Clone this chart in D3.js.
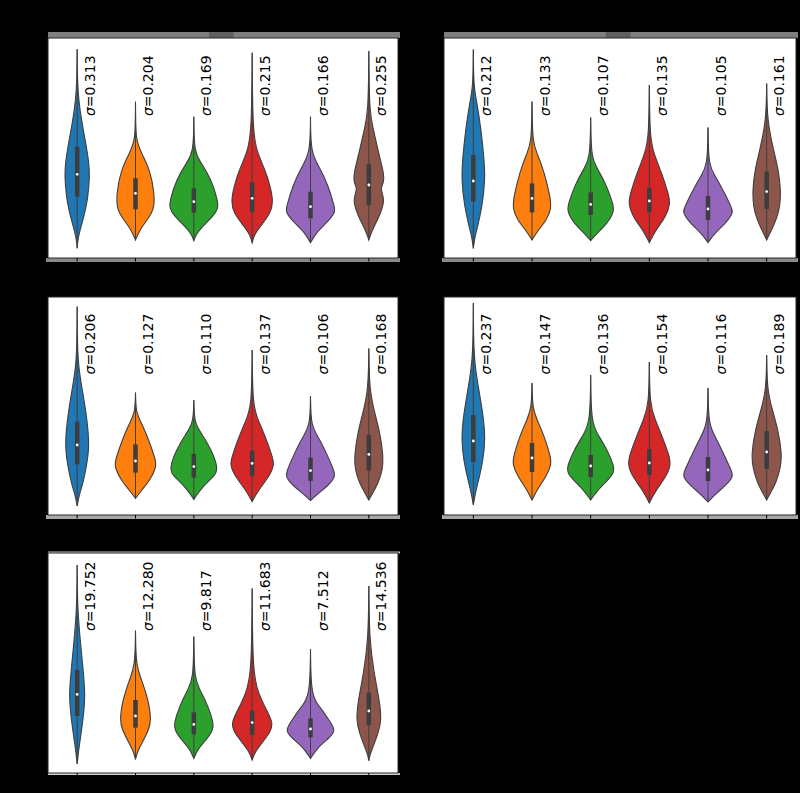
<!DOCTYPE html>
<html>
<head>
<meta charset="utf-8">
<script src="https://cdn.jsdelivr.net/npm/d3@7"></script>
<style>
  body { margin: 0; background: #000; }
  svg { display: block; }
</style>
</head>
<body>
<svg id="chart" width="800" height="793"></svg>
<script>
// six models per panel, same order and colours everywhere
const categories = ["m1", "m2", "m3", "m4", "m5", "m6"];
const colors = ["#1f77b4", "#ff7f0e", "#2ca02c", "#d62728", "#9467bd", "#8c564b"];

const sigmas = [
  ["0.313", "0.204", "0.169", "0.215", "0.166", "0.255"],
  ["0.212", "0.133", "0.107", "0.135", "0.105", "0.161"],
  ["0.206", "0.127", "0.110", "0.137", "0.106", "0.168"],
  ["0.237", "0.147", "0.136", "0.154", "0.116", "0.189"],
  ["19.752", "12.280", "9.817", "11.683", "7.512", "14.536"]
];

const yDomains = [[0, 2.2], [0, 1.1], [0, 1.09], [0, 1.09], [0, 110]];

// violin outlines: [value, relative density] from top to bottom
const p1Shapes = [
  [[2.087,0],[1.78,0.01],[1.58,0.06],[1.38,0.17],[1.113,0.37],[0.947,0.47],[0.813,0.5],[0.613,0.43],[0.48,0.33],[0.38,0.23],[0.247,0.08],[0.163,0.02],[0.097,0]],
  [[1.563,0],[1.247,0.01],[1.147,0.08],[1.047,0.24],[0.88,0.58],[0.647,0.76],[0.48,0.74],[0.38,0.46],[0.28,0.17],[0.18,0]],
  [[1.413,0],[1.047,0.01],[0.947,0.31],[0.78,0.7],[0.58,0.95],[0.497,0.98],[0.413,0.76],[0.313,0.33],[0.23,0.08],[0.173,0]],
  [[2.053,0],[1.247,0.02],[1.047,0.21],[0.88,0.52],[0.713,0.73],[0.563,0.84],[0.447,0.74],[0.313,0.31],[0.23,0.08],[0.153,0]],
  [[1.413,0],[1.047,0.01],[0.913,0.35],[0.713,0.73],[0.513,0.95],[0.463,1.0],[0.363,0.7],[0.263,0.25],[0.153,0]],
  [[2.07,0],[1.447,0.02],[1.28,0.19],[1.047,0.39],[0.85,0.6],[0.75,0.6],[0.7,0.45],[0.6,0.6],[0.54,0.58],[0.447,0.47],[0.313,0.21],[0.23,0.06],[0.18,0]]
];
const p1Boxes = [[0.613,0.837,1.113],[0.487,0.647,0.797],[0.453,0.563,0.697],[0.463,0.597,0.757],[0.397,0.513,0.663],[0.53,0.73,0.94]];

const p2Shapes = [
  [[1.043,0],[0.857,0.01],[0.773,0.15],[0.64,0.31],[0.49,0.43],[0.39,0.47],[0.257,0.35],[0.157,0.17],[0.107,0.06],[0.048,0]],
  [[0.782,0],[0.573,0.02],[0.523,0.21],[0.423,0.5],[0.307,0.72],[0.248,0.77],[0.19,0.58],[0.14,0.25],[0.09,0]],
  [[0.703,0],[0.49,0.02],[0.44,0.31],[0.357,0.65],[0.273,0.88],[0.232,0.94],[0.173,0.66],[0.123,0.25],[0.087,0]],
  [[0.865,0],[0.607,0.02],[0.523,0.17],[0.423,0.5],[0.323,0.75],[0.273,0.84],[0.207,0.66],[0.14,0.25],[0.077,0]],
  [[0.653,0],[0.457,0.02],[0.407,0.31],[0.323,0.66],[0.248,0.95],[0.227,1.0],[0.173,0.7],[0.123,0.25],[0.077,0]],
  [[0.873,0],[0.69,0.02],[0.557,0.24],[0.44,0.47],[0.34,0.56],[0.257,0.53],[0.19,0.38],[0.14,0.19],[0.09,0]]
];
const p2Boxes = [[0.282,0.385,0.515],[0.228,0.298,0.373],[0.215,0.268,0.328],[0.228,0.285,0.352],[0.19,0.245,0.31],[0.245,0.332,0.432]];

const p3Shapes = [
  [[1.042,0],[0.758,0.01],[0.625,0.21],[0.475,0.4],[0.342,0.49],[0.242,0.37],[0.158,0.23],[0.1,0.08],[0.045,0]],
  [[0.612,0],[0.508,0.02],[0.458,0.25],[0.375,0.53],[0.275,0.8],[0.242,0.84],[0.175,0.58],[0.125,0.25],[0.083,0]],
  [[0.575,0],[0.458,0.02],[0.408,0.31],[0.325,0.7],[0.258,0.91],[0.208,0.93],[0.175,0.62],[0.125,0.25],[0.078,0]],
  [[0.825,0],[0.542,0.02],[0.475,0.24],[0.375,0.58],[0.292,0.8],[0.253,0.89],[0.192,0.68],[0.125,0.25],[0.067,0]],
  [[0.595,0],[0.442,0.02],[0.392,0.31],[0.308,0.64],[0.225,0.93],[0.192,1.0],[0.15,0.73],[0.108,0.31],[0.072,0]],
  [[0.833,0],[0.625,0.02],[0.508,0.24],[0.408,0.45],[0.292,0.58],[0.225,0.55],[0.158,0.37],[0.108,0.15],[0.075,0]]
];
const p3Boxes = [[0.253,0.35,0.467],[0.212,0.27,0.353],[0.187,0.242,0.305],[0.195,0.258,0.322],[0.17,0.222,0.287],[0.222,0.303,0.4]];

const p4Shapes = [
  [[1.06,0],[0.78,0.01],[0.64,0.2],[0.5,0.39],[0.38,0.48],[0.27,0.38],[0.18,0.22],[0.11,0.08],[0.05,0]],
  [[0.66,0],[0.53,0.02],[0.47,0.22],[0.39,0.5],[0.29,0.74],[0.25,0.77],[0.19,0.55],[0.13,0.22],[0.075,0]],
  [[0.70,0],[0.46,0.02],[0.40,0.3],[0.32,0.68],[0.25,0.91],[0.21,0.94],[0.17,0.64],[0.12,0.25],[0.075,0]],
  [[0.765,0],[0.55,0.02],[0.48,0.22],[0.38,0.55],[0.3,0.78],[0.25,0.86],[0.19,0.66],[0.12,0.24],[0.06,0]],
  [[0.635,0],[0.45,0.02],[0.39,0.3],[0.3,0.64],[0.22,0.94],[0.19,1.0],[0.15,0.72],[0.105,0.3],[0.065,0]],
  [[0.8,0],[0.62,0.02],[0.52,0.24],[0.42,0.46],[0.31,0.6],[0.24,0.56],[0.16,0.37],[0.11,0.15],[0.075,0]]
];
const p4Boxes = [[0.265,0.37,0.5],[0.215,0.285,0.36],[0.19,0.245,0.3],[0.2,0.26,0.33],[0.17,0.225,0.29],[0.23,0.315,0.42]];

const p5Shapes = [
  [[104,0],[83.2,0.01],[66.5,0.12],[51.5,0.24],[38.2,0.33],[26.5,0.23],[16.5,0.12],[11.5,0.06],[4.5,0]],
  [[71.2,0],[53.2,0.02],[46.5,0.25],[36.5,0.51],[26.5,0.63],[21.5,0.53],[14.8,0.25],[10.7,0.08],[6.8,0]],
  [[68.2,0],[46.5,0.02],[41.5,0.25],[33.2,0.58],[24.8,0.79],[21.5,0.77],[16.5,0.5],[12.3,0.17],[7.3,0]],
  [[92.3,0],[49.8,0.02],[39.8,0.25],[31.5,0.57],[25.2,0.83],[20.7,0.75],[14.8,0.37],[10.7,0.12],[6.5,0]],
  [[62,0],[38.2,0.02],[33.2,0.37],[26.5,0.74],[21.5,1.0],[18.2,0.82],[13.2,0.31],[7.3,0]],
  [[93.5,0],[66.5,0.02],[49.8,0.21],[36.5,0.42],[26.5,0.51],[19.8,0.37],[13.2,0.17],[9,0.04],[6.2,0]]
];
const p5Boxes = [[28.5,39.3,51.5],[22.7,28.5,36.5],[19.3,24.3,30.3],[19,25.2,31.2],[17.8,22,27.3],[24,31,40.2]];

const panelShapes = [p1Shapes, p2Shapes, p3Shapes, p4Shapes, p5Shapes];
const panelBoxes = [p1Boxes, p2Boxes, p3Boxes, p4Boxes, p5Boxes];

// panel frames on the page
const frames = [
  {x: 48, y: 38, w: 350, h: 220, title: true},
  {x: 444, y: 38, w: 352, h: 220, title: true},
  {x: 48, y: 297, w: 350, h: 218},
  {x: 444, y: 297, w: 352, h: 218},
  {x: 48, y: 553, w: 350, h: 220, last: true}
];

const svg = d3.select("#chart");
svg.append("rect").attr("width", 800).attr("height", 793).attr("fill", "#000");

frames.forEach((f, p) => drawPanel(f, p));

function drawPanel(f, p) {
    const g = svg.append("g").attr("transform", `translate(${f.x},${f.y})`);

    // grey strips left by the dark title and tick labels
    if (f.title) {
        g.append("rect").attr("x", 0).attr("y", -6).attr("width", f.w + 2).attr("height", 6).attr("fill", "#7f7f7f");
        g.append("rect").attr("x", f.w * 0.46).attr("y", -6).attr("width", f.w * 0.07).attr("height", 6).attr("fill", "#606060");
    }
    if (f.last) {
        g.append("rect").attr("x", 0).attr("y", -1.5).attr("width", f.w + 2).attr("height", 2).attr("fill", "#bdbdbd");
        g.append("rect").attr("x", 0).attr("y", f.h).attr("width", f.w + 2).attr("height", 2).attr("fill", "#d0d0d0");
    } else {
        g.append("rect").attr("x", -2).attr("y", f.h).attr("width", f.w + 4).attr("height", 4).attr("fill", p < 2 ? "#8a8a8a" : "#a8a8a8");
    }

    g.append("rect")
        .attr("width", f.w).attr("height", f.h)
        .attr("fill", "#fff").attr("stroke", "#262626").attr("stroke-width", 1);

    const x = d3.scaleBand().domain(categories).range([0, f.w]);
    const y = d3.scaleLinear().domain(yDomains[p]).range([f.h, 0]);
    const wScale = d3.scaleLinear().domain([0, 1]).range([0, x.bandwidth() * 0.43]);

    const xAxis = g.append("g").attr("transform", `translate(0,${f.h})`)
        .call(d3.axisBottom(x).tickSize(3.5).tickFormat(""));
    xAxis.select(".domain").remove();
    xAxis.selectAll("line").attr("stroke", "#000");

    const shapes = panelShapes[p];
    const boxes = panelBoxes[p];

    categories.forEach((c, i) => {
        const cx = x(c) + x.bandwidth() / 2;
        const area = d3.area()
            .curve(d3.curveBasis)
            .y(d => y(d[0]))
            .x0(d => cx - wScale(d[1]))
            .x1(d => cx + wScale(d[1]));

        g.append("path")
            .attr("d", area(shapes[i]))
            .attr("fill", colors[i])
            .attr("stroke", "#3f3f3f")
            .attr("stroke-width", 1.1);

        const top = shapes[i][0][0];
        const bottom = shapes[i][shapes[i].length - 1][0];
        g.append("line")
            .attr("x1", cx).attr("x2", cx)
            .attr("y1", y(top)).attr("y2", y(bottom))
            .attr("stroke", "#3f3f3f").attr("stroke-width", 1);

        const b = boxes[i];
        g.append("line")
            .attr("x1", cx).attr("x2", cx)
            .attr("y1", y(b[0])).attr("y2", y(b[2]))
            .attr("stroke", "#3d3d3d").attr("stroke-width", 4.5);
        g.append("circle")
            .attr("cx", cx).attr("cy", y(b[1])).attr("r", 1.4)
            .attr("fill", "#fff");

        const t = g.append("text")
            .attr("transform", `translate(${cx + x.bandwidth() * 0.3},${f.h * 0.355}) rotate(-90)`)
            .attr("font-family", "DejaVu Sans")
            .attr("font-size", 14)
            .attr("fill", "#000");
        t.append("tspan").attr("font-style", "italic").text("σ");
        t.append("tspan").text("=" + sigmas[p][i]);
    });
}
</script>
</body>
</html>
